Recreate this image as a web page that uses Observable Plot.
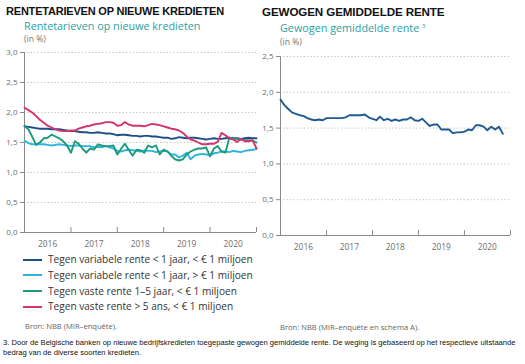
<!DOCTYPE html>
<html>
<head>
<meta charset="utf-8">
<script src="https://cdn.jsdelivr.net/npm/d3@7"></script>
<script src="https://cdn.jsdelivr.net/npm/@observablehq/plot@0.6"></script>
<style>
  html, body { margin: 0; padding: 0; background: #fff; }
  #page { position: relative; width: 525px; height: 364px; overflow: hidden; font-family: "Liberation Sans", Arial, sans-serif; }
  .abs { position: absolute; white-space: nowrap; }
  .title { font-weight: bold; font-size: 11.6px; color: #111; letter-spacing: -0.1px; line-height: 14px; }
  .sub { font-family: "Open Sans", "Noto Sans", sans-serif; font-size: 10.8px; color: #2a9fa6; line-height: 11px; }
  .unit { font-family: "Open Sans", "Noto Sans", sans-serif; font-size: 8.6px; color: #777; line-height: 9px; }
  .src { font-family: "Open Sans", "Noto Sans", sans-serif; font-size: 7.6px; color: #666; line-height: 10px; }
  .note { font-size: 7.6px; color: #111; line-height: 10px; }
  .leg { font-family: "Open Sans", "Noto Sans", sans-serif; font-size: 10.1px; color: #333; display: flex; align-items: center; line-height: 13px; }
  .leg span.sw { display: inline-block; width: 19px; height: 2px; margin-right: 6px; }
  svg { overflow: visible; }
</style>
</head>
<body>
<div id="page"></div>
<script>
// ---- Data (monthly, Jan 2016 onward) ----
const leftSeriesNames = [
  "Tegen variabele rente < 1 jaar, < € 1 miljoen",
  "Tegen variabele rente < 1 jaar, > € 1 miljoen",
  "Tegen vaste rente 1–5 jaar, < € 1 miljoen",
  "Tegen vaste rente > 5 ans, < € 1 miljoen"
];
const leftColors = ["#1c4f8a", "#2cb5dc", "#1d9a7b", "#d6336a"];

const varSmall = [1.77,1.76,1.75,1.74,1.73,1.73,1.73,1.72,1.72,1.72,1.71,1.70,1.69,1.69,1.68,1.67,1.67,1.66,1.66,1.67,1.66,1.65,1.65,1.64,1.62,1.63,1.63,1.62,1.61,1.61,1.60,1.61,1.61,1.60,1.60,1.59,1.58,1.58,1.56,1.57,1.59,1.58,1.57,1.58,1.58,1.57,1.56,1.55,1.56,1.57,1.56,1.56,1.57,1.58,1.57,1.57,1.56,1.57,1.58,1.57,1.57];
const varLarge = [1.53,1.49,1.47,1.47,1.47,1.47,1.46,1.45,1.46,1.47,1.46,1.45,1.44,1.45,1.45,1.44,1.44,1.44,1.42,1.43,1.42,1.44,1.42,1.40,1.36,1.35,1.37,1.38,1.37,1.36,1.35,1.37,1.36,1.36,1.34,1.35,1.36,1.35,1.30,1.30,1.25,1.28,1.33,1.22,1.28,1.30,1.31,1.30,1.29,1.32,1.33,1.35,1.35,1.34,1.36,1.35,1.34,1.36,1.37,1.38,1.39];
const fixed1to5 = [1.77,1.72,1.60,1.46,1.50,1.57,1.58,1.63,1.60,1.57,1.52,1.45,1.33,1.52,1.48,1.40,1.33,1.40,1.38,1.47,1.45,1.44,1.44,1.45,1.30,1.40,1.48,1.38,1.28,1.38,1.37,1.33,1.45,1.42,1.45,1.30,1.38,1.35,1.28,1.22,1.20,1.22,1.30,1.35,1.38,1.40,1.40,1.42,1.27,1.40,1.44,1.35,1.33,1.58,1.56,1.56,1.55,1.54,1.54,1.53,1.50];
const fixedOver5 = [2.08,2.04,2.00,1.94,1.88,1.83,1.78,1.75,1.72,1.70,1.69,1.69,1.70,1.70,1.73,1.75,1.77,1.78,1.80,1.81,1.82,1.84,1.84,1.83,1.78,1.79,1.84,1.80,1.78,1.78,1.78,1.77,1.79,1.81,1.80,1.79,1.77,1.75,1.73,1.72,1.70,1.66,1.60,1.55,1.53,1.50,1.47,1.47,1.48,1.48,1.51,1.66,1.62,1.57,1.55,1.51,1.56,1.52,1.52,1.54,1.40];

const weighted = [1.90,1.82,1.77,1.72,1.70,1.68,1.67,1.64,1.62,1.61,1.62,1.61,1.64,1.64,1.64,1.64,1.64,1.65,1.68,1.68,1.68,1.68,1.69,1.65,1.63,1.61,1.66,1.61,1.63,1.60,1.62,1.60,1.62,1.62,1.65,1.61,1.60,1.63,1.58,1.53,1.55,1.55,1.48,1.48,1.48,1.43,1.44,1.44,1.45,1.48,1.47,1.54,1.54,1.52,1.47,1.52,1.48,1.52,1.42];

const yearLabels = [2016, 2017, 2018, 2019, 2020];
const leftYTicks = [0, 0.5, 1.0, 1.5, 2.0, 2.5, 3.0];
const rightYTicks = [0, 0.5, 1.0, 1.5, 2.0, 2.5];

// ---- Build tables ----
const start = new Date(Date.UTC(2016, 0, 1));
const monthDate = i => d3.utcMonth.offset(start, i);
const leftValues = [varSmall, varLarge, fixed1to5, fixedOver5];
const leftData = leftValues.flatMap((arr, s) => arr.map((v, i) => ({date: monthDate(i), value: v, series: leftSeriesNames[s]})));
const rightData = weighted.map((v, i) => ({date: monthDate(i), value: v}));
const xDomain = [start, new Date(Date.UTC(yearLabels[yearLabels.length - 1] + 1, 0, 1))];
const yearBounds = yearLabels.map(y => new Date(Date.UTC(y, 0, 1))).concat([xDomain[1]]);
const yearMids = yearLabels.map(y => new Date(Date.UTC(y, 6, 1)));
const fmt = d => d.toFixed(1).replace(".", ",");

const page = document.getElementById("page");
function addText(cls, text, left, top, extra) {
  const d = document.createElement("div");
  d.className = "abs " + cls;
  d.style.left = left + "px";
  d.style.top = top + "px";
  if (extra) Object.assign(d.style, extra);
  d.innerHTML = text;
  page.appendChild(d);
  return d;
}

function chart({data, yTicks, width, height, mt, mb, ml, mr, colorOpt, z, strokeFor, plotH}) {
  const marks = [
    Plot.gridY(yTicks.filter(t => t > 0), {stroke: "#b5b5b5", strokeOpacity: 1, strokeDasharray: "1.2,2.2", strokeWidth: 0.9}),
    Plot.ruleX([xDomain[0]], {stroke: "#8a8a8a", strokeWidth: 1}),
    Plot.ruleY([0], {stroke: "#8a8a8a", strokeWidth: 1}),
    Plot.tickX(yearBounds.slice(1), {x: d => d, stroke: "#8a8a8a", strokeWidth: 1, insetTop: plotH - 5}),
    Plot.axisY({ticks: yTicks, tickFormat: fmt, tickSize: 4, tickPadding: 3, stroke: "#8a8a8a", fill: "#6d6d6d", fontSize: 8, label: null}),
    Plot.axisX({ticks: yearMids, tickFormat: "%Y", tickSize: 0, tickPadding: 9, fill: "#6d6d6d", fontSize: 8.4, label: null}),
    Plot.lineY(data, {x: "date", y: "value", z: z, stroke: strokeFor, strokeWidth: 1.9, curve: "linear"})
  ];
  return Plot.plot({
    width, height, marginTop: mt, marginBottom: mb, marginLeft: ml, marginRight: mr,
    style: {fontFamily: "'Open Sans', 'Noto Sans', sans-serif", background: "transparent", overflow: "visible"},
    x: {type: "utc", domain: xDomain},
    y: {domain: [0, yTicks[yTicks.length - 1]]},
    color: colorOpt,
    marks
  });
}

// ---- Left chart ----
const left = chart({
  data: leftData, yTicks: leftYTicks, width: 262, height: 215, mt: 12, mb: 23, ml: 24, mr: 6,
  colorOpt: {domain: leftSeriesNames, range: leftColors}, z: "series", strokeFor: "series", plotH: 180
});
left.style.position = "absolute"; left.style.left = "0px"; left.style.top = "40px";
page.appendChild(left);

// ---- Right chart ----
const right = chart({
  data: rightData, yTicks: rightYTicks, width: 262, height: 218, mt: 16, mb: 23, ml: 22, mr: 10,
  colorOpt: undefined, z: null, strokeFor: "#1d5a93", plotH: 179
});
right.style.position = "absolute"; right.style.left = "258px"; right.style.top = "40px";
page.appendChild(right);

// ---- Texts ----
addText("title", "RENTETARIEVEN OP NIEUWE KREDIETEN", 6, 4, {fontSize: "11px", letterSpacing: "-0.2px"});
addText("sub", "Rentetarieven op nieuwe kredieten", 24, 19.5);
addText("unit", "(in %)", 24, 34.5);
addText("title", "GEWOGEN GEMIDDELDE RENTE", 262, 5);
addText("sub", "Gewogen gemiddelde rente <sup style='font-size:6px;vertical-align:4px;line-height:0'>3</sup>", 280, 22);
addText("unit", "(in %)", 280, 37.5);

// Legend
leftSeriesNames.forEach((name, i) => {
  const d = addText("leg", "", 23, 253 + i * 15.8);
  d.innerHTML = `<span class="sw" style="background:${leftColors[i]}"></span>${name}`;
});

addText("src", "Bron: NBB (MIR–enquête).", 25, 321);
addText("src", "Bron: NBB (MIR–enquête en schema A).", 280, 322);
addText("note", "3. Door de Belgische banken op nieuwe bedrijfskredieten toegepaste gewogen gemiddelde rente. De weging is gebaseerd op het respectieve uitstaande<br>bedrag van de diverse soorten kredieten.", 3, 338);
</script>
</body>
</html>
